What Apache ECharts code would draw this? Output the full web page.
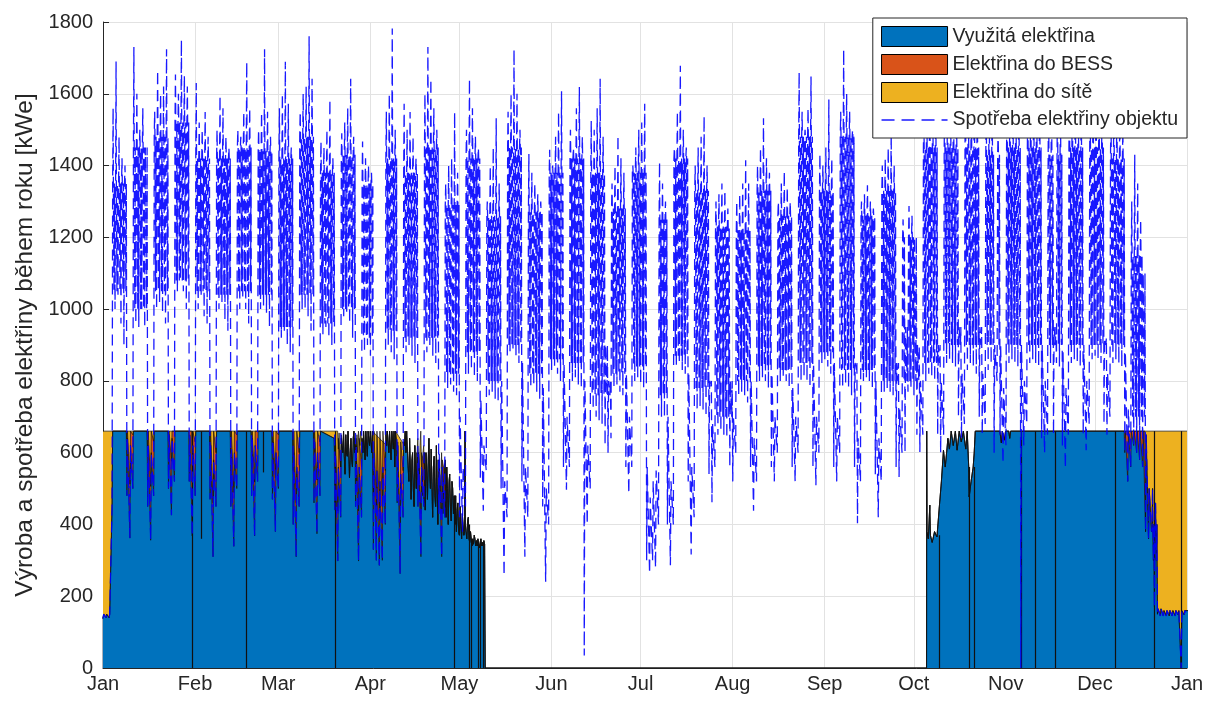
<!DOCTYPE html>
<html><head><meta charset="utf-8">
<script src="https://cdn.jsdelivr.net/npm/echarts@6/dist/echarts.min.js"></script>
<style>html,body{margin:0;padding:0;background:#fff}#c{width:1207px;height:705px}</style>
</head><body><div id="c"></div>
<script>
// ---- axis ticks (day of year 2021) ----
const monthStarts = [0,31,59,90,120,151,181,212,243,273,304,334,365];
const monthLabels = ['Jan','Feb','Mar','Apr','May','Jun','Jul','Aug','Sep','Oct','Nov','Dec','Jan'];

// ---- building consumption: daily night minimum (kWe), rows = weeks Mon..Sun ----
const consLow = [
138,140,140,
450,1000,1040,960,900,480,362,
500,960,950,1000,950,450,356,
480,1000,1020,990,960,500,426,
520,1050,1080,1050,1000,520,368,
480,1000,1040,980,960,470,310,
450,1000,1020,970,940,450,339,
500,1000,1030,1000,960,480,368,
520,1000,1010,990,950,470,380,
500,920,940,900,880,400,310,
450,1000,1000,980,940,460,374,
480,930,950,920,900,440,298,
420,980,990,960,920,450,298,
420,880,900,870,330,300,286,
300,400,900,880,860,460,263,
420,880,900,870,850,450,310,
450,880,900,870,850,430,310,
420,780,790,770,760,420,380,
450,820,830,810,800,530,438,
550,760,770,750,740,500,257,
420,880,890,870,850,520,310,
420,780,790,770,750,450,240,
400,830,840,820,800,560,497,
560,800,810,790,780,35,400,
500,720,700,690,680,620,600,
640,780,790,770,760,560,486,
560,800,810,790,780,300,263,
300,280,400,700,700,400,286,
400,840,850,830,820,520,316,
420,720,730,720,700,540,462,
560,650,660,650,640,560,520,
600,760,770,760,740,560,438,
520,800,810,800,780,560,520,
600,800,810,800,780,560,520,
600,800,810,800,780,560,509,
600,850,860,840,820,560,520,
600,780,790,780,760,560,403,
520,800,810,800,780,540,420,
520,770,780,770,760,560,532,
600,600,770,780,760,650,602,
650,800,820,810,800,650,600,
650,850,860,850,840,700,640,
680,830,850,840,820,700,650,
680,830,850,600,800,650,571,
620,850,860,850,840,0,620,
680,850,860,850,840,640,600,
650,850,650,850,840,620,557,
650,850,860,850,840,650,607,
680,860,870,860,850,680,650,
700,850,860,850,840,600,520,
560,620,600,580,560,380,360,
380,170,150,145,145,145,145,
145,145,148,0,148
];
// ---- building consumption: daily maximum (kWe) ----
const consPeak = [
152,155,150,
1560,1690,1480,1420,1400,640,620,
1730,1600,1500,1560,1450,620,600,
1550,1666,1600,1620,1724,650,640,
1654,1600,1750,1650,1620,650,620,
1630,1520,1500,1549,1480,620,580,
1500,1595,1560,1480,1450,610,600,
1500,1480,1550,1689,1560,640,620,
1500,1549,1724,1550,1480,630,600,
1560,1600,1689,1572,1450,600,560,
1550,1600,1620,1760,1642,630,600,
1467,1450,1500,1584,1420,600,560,
1490,1520,1560,1642,1480,620,560,
1467,1420,1400,1380,600,550,520,
560,1550,1600,1782,1500,620,540,
1572,1500,1549,1480,1420,600,560,
1600,1730,1642,1560,1500,600,560,
1350,1400,1420,1549,1380,700,560,
1500,1642,1560,1480,1450,750,620,
1300,1400,1450,1532,1350,800,520,
1550,1600,1724,1600,1500,850,560,
1432,1380,1350,1320,1300,780,500,
1444,1400,1480,1550,1607,850,700,
1500,1450,1560,1619,1480,800,620,
1525,1500,1560,1642,1480,900,800,
1350,1400,1485,1420,1380,820,700,
1400,1450,1500,1520,1572,560,475,
520,550,1410,1350,1300,700,520,
1450,1550,1678,1500,1450,820,560,
1400,1450,1480,1538,1400,800,680,
1300,1320,1350,1330,1280,800,700,
1300,1320,1350,1415,1350,800,640,
1400,1450,1532,1420,1380,820,700,
1300,1350,1385,1340,1300,780,700,
1660,1550,1500,1560,1648,850,700,
1432,1400,1450,1584,1420,850,700,
1550,1724,1600,1550,1500,850,640,
1300,1320,1345,1300,1280,800,640,
1400,1420,1450,1490,1400,850,720,
1250,950,1287,1260,1200,900,800,
1550,1600,1650,1600,1550,900,800,
1600,1650,1600,1620,1550,950,820,
1600,1620,1650,1600,1550,950,820,
1600,1650,1620,900,1500,900,780,
1620,1650,1600,1620,1550,900,800,
1600,1650,1620,1600,1550,900,800,
1600,1620,950,1600,1550,880,780,
1620,1650,1600,1620,1550,900,800,
1600,1620,1650,1600,1550,920,820,
1600,1620,1600,1580,1500,880,720,
1300,1430,1350,1250,1100,650,500,
500,460,165,165,160,160,160,
165,165,165,160,160
];
// ---- typical weekday daytime level per week (week 0 = Jan 1-3) ----
const weekTyp = [150,
1350,1450,1480,1520,1420,1420,1450,1440,1420,1480,
1380,1430,1350,1420,1380,1450,1290,1420,1260,1450,
1270,1380,1420,1380,1280,1380,1250,1420,1330,1230,
1220,1330,1260,1480,1330,1480,1260,1330,1200,1450,
1450,1450,1430,1450,1450,1430,1450,1450,1420,1150,
400,160];
// ---- typical weekday evening level per week (lower edge of the dense band) ----
const weekNight = [150,
1050,1000,1050,1080,1050,1040,1050,1040,950,1040,
960,1000,920,940,920,920,820,880,800,900,
820,860,850,760,820,840,760,870,780,700,
800,840,830,850,880,830,830,800,800,850,
900,900,900,900,900,900,900,900,900,700,
300,155];

// ---- production (total of the three areas), breakpoints [day, kWe] ----
const prodPts = [
[0,660],[79.0,660],[79.25,610],[79.5,655],[79.75,600],[80.0,560],[80.25,650],[80.5,620],[80.75,600],[81.0,660],
[81.25,590],[81.5,540],[81.75,650],[82.0,600],[82.25,590],[82.5,660],[82.75,610],[83.0,530],[83.25,600],[83.5,640],
[83.75,580],[84.0,560],[84.25,640],[84.5,660],[84.75,600],[85.0,620],[85.25,520],[85.5,650],[85.75,600],[86.0,660],
[86.5,620],[86.75,660],[87.5,600],[87.75,660],[88.25,580],[88.5,660],[89.0,590],[89.25,660],[89.75,620],[90.0,660],
[90.5,600],[90.7,660],[95.5,620],[95.75,660],[96.25,600],[96.5,660],[97.0,580],[97.25,660],[97.75,610],[98.0,660],
[98.25,560],[98.5,660],[101.5,620],[101.75,660],[102.0,600],[102.25,660],[102.5,660],[102.75,560],[103.0,520],
[103.25,640],[103.5,560],[103.75,470],[104.0,580],[104.25,600],[104.5,500],[104.75,450],[105.0,620],[105.25,560],
[105.5,500],[105.75,600],[106.0,640],[106.25,580],[106.5,540],[106.75,620],[107.0,660],[107.25,560],[107.5,480],
[107.75,600],[108.0,620],[108.25,520],[108.5,440],[108.75,600],[109.0,560],[109.25,470],[109.5,580],[109.75,640],
[110.0,540],[110.25,500],[110.5,610],[110.75,520],[111.0,420],[111.25,560],[111.5,590],[111.75,480],[112.0,450],
[112.25,620],[112.5,500],[112.75,400],[113.0,540],[113.25,580],[113.5,480],[113.75,460],[114.0,600],[114.25,520],
[114.5,430],[114.75,540],[115.0,570],[115.25,470],[115.5,420],[115.75,560],[116.0,500],[116.25,400],[116.5,520],
[116.75,540],[117.0,450],[117.25,410],[117.5,520],[117.75,500],[118.0,430],[118.25,480],[118.5,400],[118.75,480],
[119.0,380],[119.25,440],[119.5,460],[119.75,380],[120.0,370],[120.25,450],[120.5,400],[120.75,360],[121.0,430],
[121.25,400],[121.5,370],[121.75,380],[121.9,660],[122.0,400],[122.25,380],[122.5,360],[122.75,410],[123.0,420],
[123.25,360],[123.5,350],[123.75,380],[124.0,360],[124.25,340],[124.5,360],[124.75,345],[125.0,370],[125.25,360],
[125.5,340],[125.75,355],[126.0,340],[126.25,360],[126.5,345],[126.75,335],[127.0,350],[127.25,360],[127.5,340],
[127.75,350],[128.0,340],[128.25,355],[128.5,345],[128.65,340],[128.7,0],
[277.3,0],[277.35,660],[277.45,380],[277.9,360],[278.4,454],[278.6,370],[279.2,350],[280.0,380],[280.8,365],
[281.4,370],[281.6,449],[282.3,520],[283.0,607],[283.6,560],[284.5,640],[285.0,610],[285.6,660],[286.3,620],
[287.0,660],[287.6,607],[288.3,660],[289.0,630],[289.7,660],[290.5,610],[291.0,660],[291.5,560],[291.65,477],
[292.3,520],[293.0,560],[293.35,600],[293.7,660],[302.0,660],[302.5,627],[302.8,660],[303.5,635],[303.9,660],
[305.0,660],[305.3,640],[305.6,660],[365,660]
];
// ---- short production outages: [day, from kWe, to kWe] ----
const outages = [
[30.0,0,660],[33.2,360,660],[48.2,0,660],[53.9,545,660],[78.3,0,660],[118.2,0,480],[123.2,0,400],
[124.0,0,360],[126.2,0,345],[127.0,0,350],[128.0,0,345],[281.5,0,370],[291.6,0,560],[293.3,0,560],
[309.1,0,660],[313.8,0,660],[320.5,0,660],[340.7,0,660],[353.9,0,660],[363.08,0,660]
];
// ---- periods with surplus (consumption below production): [start day, end day, production kWe, BESS charging kWe] ----
const surplusWindows = [
[-0.1,3.25,660,0],
[7.85,10.25,660,150],[14.85,17.25,660,150],[21.85,24.25,660,150],[28.85,31.25,660,150],
[35.85,38.25,660,150],[42.85,45.25,660,150],[49.85,52.25,660,150],[56.85,59.25,660,150],
[63.85,66.25,660,150],[70.85,73.25,660,150],[77.85,80.25,640,140],[84.85,87.25,640,140],
[90.85,95.25,660,150],[98.85,101.25,630,130],[105.85,108.25,600,120],[112.85,115.25,580,120],
[343.85,350.8,660,140],[350.8,365.5,660,0]
];

// ---------- build series data ----------
const consPts = [];
for (let d = 0; d < consLow.length; d++) {
  const w = d < 3 ? 0 : Math.floor((d - 3) / 7) + 1;
  const t = Math.min(weekTyp[w], consPeak[d]);
  const n = Math.min(weekNight[w], consPeak[d]);
  consPts.push([d + 0.05, consLow[d]], [d + 0.25, t], [d + 0.4, consPeak[d]], [d + 0.5, t], [d + 0.7, n], [d + 0.85, t]);
}
// used electricity = consumption where it is below production; BESS on top of it
const dips = surplusWindows.map(([a, b, edge, band]) => {
  const used = consPts.filter(p => p[0] > a && p[0] < b).map(p => [p[0], Math.min(p[1], edge)]);
  const bess = used.map(p => [p[0], Math.min(p[1] + band, edge)]);
  return {
    used: [[a, a < 0 ? used[0][1] : edge]].concat(used, [[b, b > 365 ? used[used.length - 1][1] : edge]]),
    bess: [[a, a < 0 ? bess[0][1] : edge]].concat(bess, [[b, b > 365 ? bess[bess.length - 1][1] : edge]])
  };
});
function withDips(base, key) {
  let pts = base.slice();
  dips.forEach(dp => {
    const seg = dp[key];
    const a = seg[0][0], b = seg[seg.length - 1][0];
    pts = pts.filter(p => p[0] < a || p[0] > b).concat(seg);
  });
  return pts.sort((p, q) => p[0] - q[0]);
}
const bessTop = withDips(prodPts, 'bess');
const usedTop = withDips(prodPts, 'used');

const FONT = 'Liberation Sans, Arial, Helvetica, sans-serif';
const TXT = '#262626';
const areaBase = { type: 'line', symbol: 'none', showSymbol: false, silent: true, animation: false,
  lineStyle: { color: '#111', width: 0.7 }, emphasis: { disabled: true } };

const chart = echarts.init(document.getElementById('c'), null, { renderer: 'canvas' });
chart.setOption({
  animation: false,
  textStyle: { fontFamily: FONT },
  grid: { left: 103, right: 20, top: 22, bottom: 37, containLabel: false },
  xAxis: {
    type: 'value', min: 0, max: 365,
    axisLine: { lineStyle: { color: TXT } },
    axisTick: { inside: true, length: 6, customValues: monthStarts, lineStyle: { color: TXT } },
    axisLabel: { customValues: monthStarts, formatter: v => monthLabels[monthStarts.indexOf(v)],
      fontSize: 20, color: TXT, margin: 6, fontFamily: FONT },
    splitLine: { show: false }
  },
  yAxis: {
    type: 'value', min: 0, max: 1800, interval: 200,
    axisLine: { show: true, lineStyle: { color: TXT } },
    axisTick: { show: true, inside: true, length: 6, lineStyle: { color: TXT } },
    axisLabel: { fontSize: 20, color: TXT, margin: 10, fontFamily: FONT, formatter: v => String(v) },
    splitLine: { lineStyle: { color: '#e2e2e2' } },
    name: 'Výroba a spotřeba elektřiny během roku [kWe]', nameLocation: 'middle', nameGap: 60,
    nameTextStyle: { fontSize: 24.5, color: TXT, fontFamily: FONT }
  },
  legend: {
    data: [
      { name: 'Využitá elektřina', icon: 'rect', itemStyle: { color: '#0072BD', borderColor: '#000', borderWidth: 1 } },
      { name: 'Elektřina do BESS', icon: 'rect', itemStyle: { color: '#D95319', borderColor: '#000', borderWidth: 1 } },
      { name: 'Elektřina do sítě', icon: 'rect', itemStyle: { color: '#EDB120', borderColor: '#000', borderWidth: 1 } },
      { name: 'Spotřeba elektřiny objektu', itemStyle: { opacity: 0 }, lineStyle: { width: 1.5, color: '#0000FF', type: [13, 7] } }
    ],
    orient: 'vertical', right: 20, top: 18, itemWidth: 66, itemHeight: 20, itemGap: 7,
    padding: [8, 9, 8, 8], backgroundColor: '#fff', borderColor: TXT, borderWidth: 1, borderRadius: 0,
    selectedMode: false, z: 10,
    textStyle: { fontSize: 19.5, color: TXT, fontFamily: FONT, lineHeight: 20 }
  },
  series: [
    { name: 'mesh', type: 'line', data: [], silent: true, z: 1,
      markLine: { silent: true, symbol: 'none', animation: false, z: 1, label: { show: false },
        lineStyle: { color: '#e2e2e2', width: 1, type: 'solid' },
        data: monthStarts.slice(1).map(m => ({ xAxis: m })) } },
    Object.assign({}, areaBase, { name: 'Elektřina do sítě', data: prodPts, z: 2,
      itemStyle: { color: '#EDB120' }, areaStyle: { color: '#EDB120', opacity: 1 } }),
    Object.assign({}, areaBase, { name: 'Elektřina do BESS', data: bessTop, z: 2,
      itemStyle: { color: '#D95319' }, areaStyle: { color: '#D95319', opacity: 1 } }),
    Object.assign({}, areaBase, { name: 'Využitá elektřina', data: usedTop, z: 2,
      itemStyle: { color: '#0072BD' }, areaStyle: { color: '#0072BD', opacity: 1 } }),
    { name: 'outage', type: 'line', data: [], silent: true, z: 3,
      markLine: { silent: true, symbol: 'none', animation: false, z: 3, label: { show: false },
        lineStyle: { color: '#111', width: 1.2, type: 'solid' },
        data: outages.map(o => [{ coord: [o[0], o[1]] }, { coord: [o[0], o[2]] }]) } },
    { name: 'Spotřeba elektřiny objektu', type: 'line', data: consPts, symbol: 'none', showSymbol: false,
      silent: true, animation: false, z: 4,
      itemStyle: { color: '#0000FF' },
      lineStyle: { color: '#0000FF', width: 1.3, opacity: 0.9, type: [11, 6] } }
  ]
});
</script></body></html>
